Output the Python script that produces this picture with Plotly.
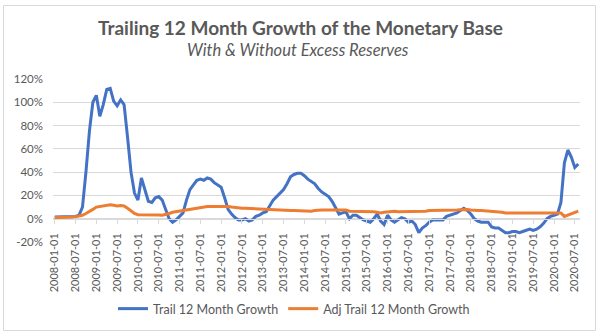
import pandas as pd
import plotly.graph_objects as go

# Monthly categories 2008-01-01 .. 2020-08-01
trail_growth = [
    1.5, 1.5, 1.8, 2, 2, 1.5, 2, 3, 10, 40, 75, 100,            # 2008
    106, 88, 98, 111, 112, 101, 97, 102, 98, 70, 40, 22,        # 2009
    16, 35, 25, 15, 14, 18, 19, 16, 8, 0, -3, -1,               # 2010
    2, 5, 16, 25, 29, 33, 34, 33, 35, 34, 31, 29,               # 2011
    27, 18, 8, 4, 1, -1, -1, 0, -2, -1, 2, 3,                   # 2012
    5, 6, 11, 16, 19, 22, 25, 30, 36, 38, 39, 39,               # 2013
    37, 34, 32, 30, 26, 23, 21, 19, 15, 9, 4, 5,                # 2014
    6, 0, 3, 3, 1, -1, -2, -3, 0, 4, -2, -5,                    # 2015
    3, -1, -3, -1, 1, 0, -3, -2, -5, -12, -8, -6,               # 2016
    -3, -1, -1, -1, -1, 2, 3, 4, 5, 7, 9, 7,                    # 2017
    4, 0, -2, -3, -3, -3, -7, -8, -8, -10, -12, -12,            # 2018
    -11, -11, -12, -11, -10, -9, -10, -9, -7, -4, 0, 2,         # 2019
    3, 4, 14, 48, 59, 53, 44, 47,                               # 2020
]
adj_trail_growth = [
    1, 1, 1.2, 1.3, 1.2, 1.5, 1.8, 2.3, 3, 4.5, 6, 8,
    10, 10.5, 11, 11.5, 12, 11.5, 11, 11.3, 11, 9, 6.5, 4.5,
    3.5, 3.5, 3.8, 3.5, 3.5, 3.3, 3.2, 3, 3.5, 4.5, 5.5, 6,
    6.5, 7, 7.5, 8.5, 9, 9.5, 9.5, 10, 10.5, 10.5, 10.5, 10.5,
    10.5, 10.8, 10.5, 10, 9.5, 9.3, 9, 9, 8.8, 8.8, 8.5, 8.3,
    8, 8, 8, 7.8, 7.5, 7.5, 7.3, 7, 7, 7, 6.8, 6.5,
    6.5, 6.5, 6.5, 7, 7.5, 7.5, 7.5, 7.5, 7.5, 7, 7, 7.3,
    7.5, 6.5, 6.5, 6, 6, 6, 6, 6.5, 6, 5.5, 5, 5.5,
    6, 6, 6.5, 6, 6, 6, 6, 6.3, 6.3, 6.5, 6.5, 6.5,
    7, 7, 7, 7, 7.3, 7.5, 7.5, 7.5, 7.5, 7.8, 8, 8,
    7.5, 7, 7, 7, 6.8, 6.5, 6.5, 6.3, 6, 5.5, 5, 5,
    5, 5, 5, 5, 5, 5.3, 5.5, 5.5, 5.5, 5.5, 5.5, 5.5,
    5.5, 5.5, 5, 2, 3, 4, 5, 6.5,
]
dates = list(pd.date_range("2008-01-01", periods=len(trail_growth), freq="MS").strftime("%Y-%m-%d"))
tick_labels = dates[::6]
y_ticks = [-20, 0, 20, 40, 60, 80, 100, 120]

TITLE = "Trailing 12 Month Growth of the Monetary Base"
SUBTITLE = "With & Without Excess Reserves"
GREY = "#595959"
FONT = "Lato"

fig = go.Figure()
fig.add_trace(go.Scatter(x=dates, y=trail_growth, mode="lines", name="Trail 12 Month Growth",
                         line=dict(color="#4472C4", width=3)))
fig.add_trace(go.Scatter(x=dates, y=adj_trail_growth, mode="lines", name="Adj Trail 12 Month Growth",
                         line=dict(color="#ED7D31", width=3)))

W, H = 600, 335
ml, mr, mt, mb = 53, 20, 79, 93
pw, ph = W - ml - mr, H - mt - mb
ymin, ymax = -20, 120
zero_pos = (0 - ymin) / (ymax - ymin)

fig.update_layout(
    width=W, height=H,
    margin=dict(l=ml, r=mr, t=mt, b=mb, pad=0, autoexpand=False),
    paper_bgcolor="white", plot_bgcolor="white",
    font=dict(family=FONT, color=GREY, size=12),
    showlegend=True,
    legend=dict(orientation="h", xref="container", yref="container", x=0.49, xanchor="center",
                y=1 - 309 / H, yanchor="middle", font=dict(size=12.5, color=GREY),
                itemwidth=30, tracegroupgap=0),
    xaxis=dict(type="category", range=[-0.5, len(dates) - 0.5], tickmode="array",
               tickvals=tick_labels, ticktext=tick_labels, tickangle=-90,
               anchor="free", position=zero_pos, showline=True, linecolor="#d9d9d9", linewidth=1,
               ticks="outside", ticklen=4, tickcolor="#d9d9d9", showgrid=False, automargin=False,
               tickfont=dict(size=11, color=GREY), ticklabelstandoff=5),
    yaxis=dict(range=[ymin, ymax], tickvals=y_ticks, ticktext=[f"{v}%" for v in y_ticks],
               showgrid=True, gridcolor="#d9d9d9", gridwidth=1, zeroline=False, showline=False,
               automargin=False,
               tickfont=dict(size=11.5, color=GREY), ticklabelstandoff=9),
)

fig.add_annotation(text=f"<b>{TITLE}</b>", xref="paper", yref="paper",
                   x=(300 - ml) / pw, y=(H - mb - 27) / ph, xanchor="center", yanchor="middle",
                   showarrow=False, font=dict(size=19, color=GREY, family=FONT))
fig.add_annotation(text=f"<i>{SUBTITLE}</i>", xref="paper", yref="paper",
                   x=(298 - ml) / pw, y=(H - mb - 50) / ph, xanchor="center", yanchor="middle",
                   showarrow=False, font=dict(size=16.5, color=GREY, family=FONT))

# chart border
fig.add_shape(type="rect", xref="paper", yref="paper",
              x0=(3.5 - ml) / pw, x1=(595.5 - ml) / pw,
              y0=(H - mb - 330.5) / ph, y1=(H - mb - 5.5) / ph,
              line=dict(color="#d9d9d9", width=1), fillcolor="rgba(0,0,0,0)", layer="below")

fig.write_html("out.html", config={"displayModeBar": False})
